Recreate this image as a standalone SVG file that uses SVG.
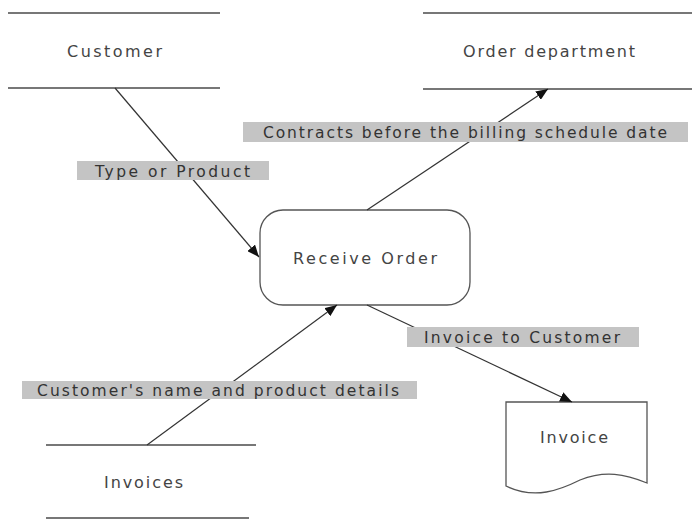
<svg xmlns="http://www.w3.org/2000/svg" width="692" height="519" viewBox="0 0 692 519">
<defs>
<style>
.store{stroke:#777;stroke-width:2;fill:none}
.shape{stroke:#555;stroke-width:1.3;fill:#fff}
.t{font-family:"DejaVu Sans",sans-serif;font-size:16px;fill:#444;text-anchor:start}
.lbl{fill:#c4c4c4}
.lt{font-family:"DejaVu Sans",sans-serif;font-size:15.5px;fill:#333}
.conn{stroke:#333;stroke-width:1.2;fill:none;marker-end:url(#arr)}
</style>
<marker id="arr" viewBox="0 0 12 10" refX="12" refY="5" markerWidth="12" markerHeight="10" markerUnits="userSpaceOnUse" orient="auto">
<path d="M0,0 L12,5 L0,10 Z" fill="#111"/>
</marker>
</defs>
<rect width="692" height="519" fill="#fff"/>
<g id="customer">
<line class="store" x1="8" y1="13" x2="220" y2="13"/>
<line class="store" x1="8" y1="88" x2="220" y2="88"/>
<text class="t" x="67" y="57" textLength="95" lengthAdjust="spacing">Customer</text>
</g>
<g id="order-department">
<line class="store" x1="423" y1="13" x2="692" y2="13"/>
<line class="store" x1="423" y1="89" x2="692" y2="89"/>
<text class="t" x="463" y="57" textLength="172" lengthAdjust="spacing">Order department</text>
</g>
<g id="invoices">
<line class="store" x1="46" y1="445" x2="256" y2="445"/>
<line class="store" x1="46" y1="518" x2="249" y2="518"/>
<text class="t" x="104" y="488" textLength="79" lengthAdjust="spacing">Invoices</text>
</g>
<g id="receive-order">
<rect class="shape" x="260" y="210" width="210" height="95" rx="23" ry="23"/>
<text class="t" x="293" y="264" textLength="144" lengthAdjust="spacing">Receive Order</text>
</g>
<g id="invoice">
<path class="shape" d="M506,402 L647,402 L647,483 C625,474 605,470 580,480 C560,490 535,500 506,486 Z"/>
<text class="t" x="540" y="443" textLength="68" lengthAdjust="spacing">Invoice</text>
</g>
<g id="connectors">
<line class="conn" x1="115" y1="88" x2="259" y2="257"/>
<line class="conn" x1="367" y1="210" x2="548" y2="89"/>
<line class="conn" x1="147" y1="445" x2="337" y2="305"/>
<line class="conn" x1="367" y1="305" x2="572" y2="402"/>
</g>
<g id="labels">
<rect class="lbl" x="77" y="161" width="192" height="19"/>
<text class="lt" x="95" y="177" textLength="155" lengthAdjust="spacing">Type or Product</text>
<rect class="lbl" x="243" y="122" width="445" height="20"/>
<text class="lt" x="263" y="138" textLength="404" lengthAdjust="spacing">Contracts before the billing schedule date</text>
<rect class="lbl" x="22" y="381" width="395" height="18"/>
<text class="lt" x="37" y="396" textLength="362" lengthAdjust="spacing">Customer's name and product details</text>
<rect class="lbl" x="407" y="327" width="232" height="20"/>
<text class="lt" x="424" y="343" textLength="196" lengthAdjust="spacing">Invoice to Customer</text>
</g>
</svg>
